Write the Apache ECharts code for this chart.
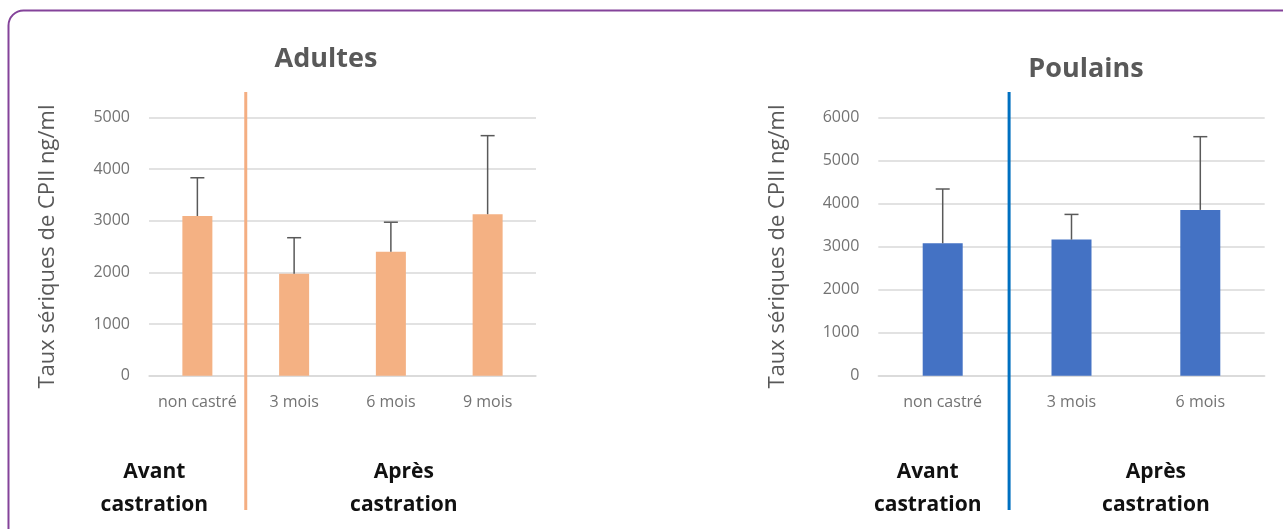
<!DOCTYPE html>
<html>
<head>
<meta charset="utf-8">
<script src="https://cdn.jsdelivr.net/npm/echarts@6/dist/echarts.min.js"></script>
<style>
html,body{margin:0;padding:0;background:#fff;}
#c{width:1283px;height:529px;}
</style>
</head>
<body>
<div id="c"></div>
<script>
// ---- Data ----
const adultCategories = ['non castré', '3 mois', '6 mois', '9 mois'];
const adultMeans = [3090, 1975, 2400, 3125];
const adultErrTop = [3830, 2670, 2970, 4645];

const foalCategories = ['non castré', '3 mois', '6 mois'];
const foalMeans = [3075, 3160, 3850];
const foalErrTop = [4335, 3745, 5550];

const adultYTicks = { min: 0, max: 5000, interval: 1000 };
const foalYTicks = { min: 0, max: 6000, interval: 1000 };

const titles = ['Adultes', 'Poulains'];
const yAxisTitle = 'Taux sériques de CPII ng/ml';
const groupLabels = ['Avant\ncastration', 'Après\ncastration'];

// ---- Chart ----
const FONT = "'Open Sans', sans-serif";
const chart = echarts.init(document.getElementById('c'), null, { renderer: 'canvas' });

function errRender(params, api) {
  const x = api.value(0);
  const p1 = api.coord([x, api.value(1)]);
  const p2 = api.coord([x, api.value(2)]);
  const w = 7;
  const st = { stroke: '#595959', lineWidth: 1.5 };
  return {
    type: 'group',
    children: [
      { type: 'line', shape: { x1: p1[0], y1: p1[1], x2: p2[0], y2: p2[1] }, style: st },
      { type: 'line', shape: { x1: p2[0] - w, y1: p2[1], x2: p2[0] + w, y2: p2[1] }, style: st }
    ]
  };
}

const axisLabelStyle = { color: '#737373', fontSize: 16, fontFamily: FONT };

function xAxis(idx, cats) {
  return {
    type: 'category', gridIndex: idx, data: cats,
    axisLine: { show: true, lineStyle: { color: '#d9d9d9', width: 1.5 } },
    axisTick: { show: false },
    axisLabel: Object.assign({ margin: 19, interval: 0 }, axisLabelStyle)
  };
}
function yAxis(idx, t) {
  return {
    type: 'value', gridIndex: idx, min: t.min, max: t.max, interval: t.interval,
    name: yAxisTitle, nameLocation: 'middle', nameRotate: 90, nameGap: 90,
    nameTextStyle: { color: '#595959', fontSize: 22, fontFamily: FONT },
    axisLine: { show: false }, axisTick: { show: false },
    axisLabel: Object.assign({ margin: 19, formatter: v => String(v) }, axisLabelStyle),
    splitLine: { lineStyle: { color: '#d9d9d9', width: 1.5 } }
  };
}

chart.setOption({
  animation: false,
  backgroundColor: '#ffffff',
  title: [
    { text: titles[0], left: 321, top: 41, textAlign: 'center',
      textStyle: { color: '#595959', fontSize: 27, fontWeight: 'bold', fontFamily: FONT } },
    { text: titles[1], left: 1081, top: 51, textAlign: 'center',
      textStyle: { color: '#595959', fontSize: 27, fontWeight: 'bold', fontFamily: FONT } }
  ],
  grid: [
    { left: 149, top: 117.3, width: 387, height: 258.4 },
    { left: 878.3, top: 117.3, width: 386.4, height: 258.4 }
  ],
  xAxis: [xAxis(0, adultCategories), xAxis(1, foalCategories)],
  yAxis: [yAxis(0, adultYTicks), yAxis(1, foalYTicks)],
  series: [
    { type: 'bar', xAxisIndex: 0, yAxisIndex: 0, data: adultMeans, barWidth: 30,
      itemStyle: { color: '#F4B183' }, z: 2 },
    { type: 'custom', xAxisIndex: 0, yAxisIndex: 0, renderItem: errRender, z: 3,
      data: adultMeans.map((m, i) => [i, m, adultErrTop[i]]) },
    { type: 'bar', xAxisIndex: 1, yAxisIndex: 1, data: foalMeans, barWidth: 40,
      itemStyle: { color: '#4472C4' }, z: 2 },
    { type: 'custom', xAxisIndex: 1, yAxisIndex: 1, renderItem: errRender, z: 3,
      data: foalMeans.map((m, i) => [i, m, foalErrTop[i]]) }
  ]
});

// Divider lines & group labels, positioned from the axes
const a0 = chart.convertToPixel({ xAxisIndex: 0 }, 0);
const a1 = chart.convertToPixel({ xAxisIndex: 0 }, 1);
const a3 = chart.convertToPixel({ xAxisIndex: 0 }, 3);
const f0 = chart.convertToPixel({ xAxisIndex: 1 }, 0);
const f1 = chart.convertToPixel({ xAxisIndex: 1 }, 1);
const f2 = chart.convertToPixel({ xAxisIndex: 1 }, 2);
const divA = (a0 + a1) / 2;
const divF = (f0 + f1) / 2 + 2;

const labelFont = "bold 21px " + FONT;
function groupText(x, txt) {
  return { type: 'text', x: x, y: 489, z: 10,
    style: { text: txt, textAlign: 'center', textVerticalAlign: 'middle',
      font: labelFont, lineHeight: 33, fill: '#111111' } };
}

chart.setOption({
  graphic: [
    { type: 'rect', z: 0, silent: true,
      shape: { x: 8.5, y: 10.5, width: 1290, height: 535, r: 15 },
      style: { fill: null, stroke: '#84439A', lineWidth: 2 } },
    { type: 'line', z: 5, shape: { x1: divA, y1: 92, x2: divA, y2: 510 },
      style: { stroke: '#F4AE82', lineWidth: 3 } },
    { type: 'line', z: 5, shape: { x1: divF, y1: 92, x2: divF, y2: 510 },
      style: { stroke: '#0070C0', lineWidth: 3 } },
    groupText(a0 - 43, groupLabels[0]),
    groupText((a1 + a3) / 2 + 13, groupLabels[1]),
    groupText(f0 - 15, groupLabels[0]),
    groupText((f1 + f2) / 2 + 20, groupLabels[1])
  ]
});
</script>
</body>
</html>
